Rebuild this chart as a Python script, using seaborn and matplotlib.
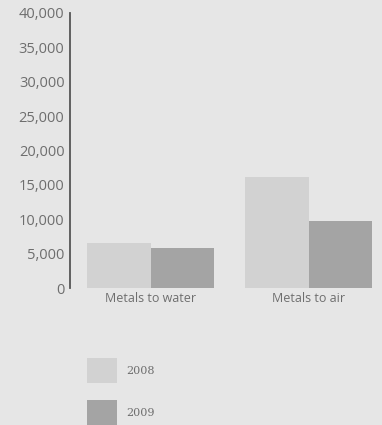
import matplotlib
matplotlib.use("Agg")
import matplotlib.pyplot as plt
import seaborn as sns
import pandas as pd
from matplotlib.ticker import FuncFormatter

categories = ["Metals to water", "Metals to air"]
years = ["2008", "2009"]
values_2008 = [6600, 16200]
values_2009 = [5800, 9700]
y_ticks = [0, 5000, 10000, 15000, 20000, 25000, 30000, 35000, 40000]

df = pd.DataFrame({
    "category": categories * 2,
    "year": [years[0]] * len(categories) + [years[1]] * len(categories),
    "value": values_2008 + values_2009,
})

sns.set_theme(style="white")
plt.rcParams["font.family"] = ["Open Sans", "DejaVu Sans"]

bg = "#e6e6e6"
text_color = "#6e6e6e"
palette = {"2008": "#d2d2d2", "2009": "#a4a4a4"}

fig = plt.figure(figsize=(3.82, 4.25), dpi=100, facecolor=bg)
ax = fig.add_axes([70 / 382, (425 - 288) / 425, 1 - 70 / 382, 275 / 425])
ax.set_facecolor(bg)

sns.barplot(data=df, x="category", y="value", hue="year", palette=palette,
            width=0.8, saturation=1, ax=ax, legend=False, linewidth=0)

ax.set_ylim(0, 40000)
ax.set_xlim(-0.51, 1.465)
ax.set_yticks(y_ticks)
ax.yaxis.set_major_formatter(FuncFormatter(lambda v, p: f"{int(v):,}"))
ax.set_xlabel("")
ax.set_ylabel("")
ax.tick_params(axis="both", length=0, colors=text_color)
ax.tick_params(axis="y", pad=4, labelsize=10.5)
ax.tick_params(axis="x", pad=3, labelsize=9)

for side in ["top", "right", "bottom"]:
    ax.spines[side].set_visible(False)
ax.spines["left"].set_color("#555555")
ax.spines["left"].set_linewidth(1.3)

handles = [plt.Rectangle((0, 0), 1, 1, facecolor=palette[y], edgecolor="none") for y in years]
fig.legend(handles, years, loc="upper left", bbox_to_anchor=(87 / 382, 1 - 358 / 425),
           frameon=False, handlelength=2.7, handleheight=3.1,
           labelspacing=1.5, handletextpad=0.8, borderpad=0, borderaxespad=0,
           labelcolor=text_color, prop={"family": ["DejaVu Serif"], "size": 8})

fig.savefig("out.png", dpi=100, facecolor=bg)
